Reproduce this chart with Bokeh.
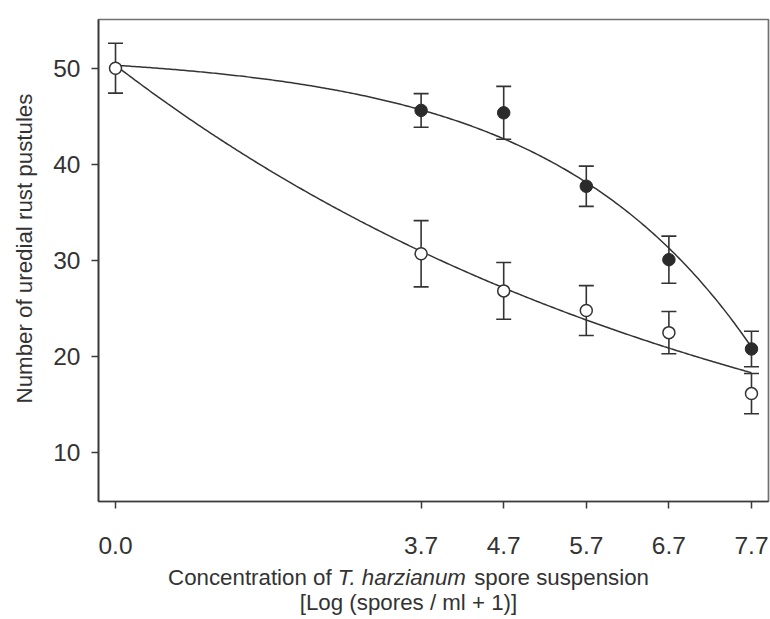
import numpy as np
from bokeh.plotting import figure
from bokeh.layouts import row, column
from bokeh.models import ColumnDataSource, Whisker, TeeHead, FixedTicker, Plot
from bokeh.core.properties import value
from bokeh.embed import file_html
from bokeh.resources import INLINE

# --- data: uredial rust pustules vs. T. harzianum spore concentration ---
x_ticks = [0.0, 3.7, 4.7, 5.7, 6.7, 7.7]
x_tick_labels = ["0.0", "3.7", "4.7", "5.7", "6.7", "7.7"]
y_ticks = [10, 20, 30, 40, 50]

filled_x = [3.7, 4.7, 5.7, 6.7, 7.7]
filled_y = [45.6, 45.35, 37.7, 30.05, 20.75]
filled_err = [1.75, 2.75, 2.1, 2.45, 1.85]

open_x = [0.0, 3.7, 4.7, 5.7, 6.7, 7.7]
open_y = [50.0, 30.67, 26.8, 24.75, 22.45, 16.1]
open_err = [2.6, 3.45, 2.95, 2.6, 2.2, 2.1]

# regression models drawn through each series
filled_fit = dict(a=51.605, b=1.305, c=0.41)    # y = a - b * exp(c x)
open_fit = dict(a=50.3, k=0.1315)               # y = a * exp(-k x)

x_title_parts = [("Concentration of", "normal"),
                 ("T. harzianum", "italic"),
                 ("spore suspension", "normal")]
x_title_line2 = "[Log (spores / ml + 1)]"
y_title = "Number of uredial rust pustules"

# --- layout ---
W, H = 770, 619
LEFT_STRIP = 40                      # column holding the y-axis title
BOTTOM_STRIP = 57                    # row holding the x-axis title
MAIN_W, MAIN_H = W - LEFT_STRIP, H - BOTTOM_STRIP
FRAME_LEFT, FRAME_TOP, FRAME_W, FRAME_H = 98, 19, 670, 482
X0, X1 = -0.206, 7.906
Y0, Y1 = 4.86, 55.07

TEXT = "#333333"
INK = "#333333"
FONT = "Liberation Sans"
TITLE_SIZE = 22.3
CAN_UNALIGN = "frame_align" in Plot.properties()

p = figure(
    frame_width=FRAME_W, frame_height=FRAME_H,
    x_range=(X0, X1), y_range=(Y0, Y1),
    min_border_left=FRAME_LEFT - LEFT_STRIP, min_border_top=FRAME_TOP,
    min_border_right=W - FRAME_LEFT - FRAME_W,
    min_border_bottom=MAIN_H - FRAME_TOP - FRAME_H,
    output_backend="svg", toolbar_location=None,
)
p.grid.visible = False
p.background_fill_color = "white"
p.border_fill_color = "white"
p.outline_line_color = "#707070"
p.outline_line_width = 1.7

for ax in (p.xaxis[0], p.yaxis[0]):
    ax.axis_line_color = "#3a3a3a"
    ax.axis_line_width = 1.7
    ax.major_tick_line_color = "#3a3a3a"
    ax.major_tick_line_width = 1.5
    ax.major_tick_out = 7
    ax.major_tick_in = 0
    ax.minor_tick_out = 0
    ax.minor_tick_in = 0
    ax.major_label_text_font = FONT
    ax.major_label_text_font_size = "24.5px"
    ax.major_label_text_color = TEXT

p.xaxis[0].ticker = FixedTicker(ticks=x_ticks)
p.xaxis[0].major_label_overrides = {t: s for t, s in zip(x_ticks, x_tick_labels)}
p.xaxis[0].major_label_standoff = 28
p.yaxis[0].ticker = FixedTicker(ticks=y_ticks)
p.yaxis[0].major_label_standoff = 11

# --- fitted curves ---
xs = np.linspace(0.0, 7.7, 300)
p.line(xs, filled_fit["a"] - filled_fit["b"] * np.exp(filled_fit["c"] * xs),
       line_color=INK, line_width=1.5)
p.line(xs, open_fit["a"] * np.exp(-open_fit["k"] * xs),
       line_color=INK, line_width=1.5)

# --- error bars ---
def add_whiskers(x, y, e):
    src = ColumnDataSource(dict(
        x=x,
        lo=[v - d for v, d in zip(y, e)],
        hi=[v + d for v, d in zip(y, e)],
    ))
    p.add_layout(Whisker(
        source=src, base="x", lower="lo", upper="hi",
        line_color=INK, line_width=1.6,
        upper_head=TeeHead(size=15, line_color=INK, line_width=1.6),
        lower_head=TeeHead(size=15, line_color=INK, line_width=1.6),
    ))

add_whiskers(filled_x, filled_y, filled_err)
add_whiskers(open_x, open_y, open_err)

# --- points ---
p.scatter(filled_x, filled_y, size=12.5, marker="circle",
          fill_color="#2b2b2b", line_color="#2b2b2b", line_width=1)
p.scatter(open_x, open_y, size=12, marker="circle",
          fill_color="white", line_color=INK, line_width=1.5)


def text_strip(width, height, x_span, y_span):
    """An axis-less figure used only to carry title text in page pixels."""
    f = figure(width=width, height=height, x_range=x_span, y_range=y_span,
               x_axis_location=None, y_axis_location=None,
               output_backend="svg", toolbar_location=None,
               min_border=0, outline_line_color=None)
    if CAN_UNALIGN:
        f.frame_align = False
    f.grid.visible = False
    f.background_fill_color = "white"
    f.border_fill_color = "white"
    return f


# --- y-axis title ---
left = text_strip(LEFT_STRIP, H, (0, LEFT_STRIP), (H, 0))
left.text(x=[24], y=[248], text=[y_title], angle=np.pi / 2,
          text_font=value(FONT), text_font_size=f"{TITLE_SIZE}px",
          text_color=TEXT, text_align="center", text_baseline="alphabetic")

# --- x-axis title (two lines, species name in italics) ---
# x runs in page pixels; without frame alignment the strip spans its own width,
# otherwise its frame lines up with the main plot's frame
x_span = (LEFT_STRIP, W) if CAN_UNALIGN else (FRAME_LEFT, FRAME_LEFT + FRAME_W)
bottom = text_strip(MAIN_W, BOTTOM_STRIP, x_span, (H, MAIN_H))
# Liberation Sans advance widths (em/1000) of the three pieces and a space
part_widths = [7337, 5835, 7837]
space = 278
total = (sum(part_widths) + space * (len(part_widths) - 1)) / 1000 * TITLE_SIZE
center_x = 408
line1_y, line2_y = 576.5, 602.0
cursor = center_x - total / 2
for (txt, style), w in zip(x_title_parts, part_widths):
    bottom.text(x=[cursor], y=[line1_y], text=[txt],
                text_font=value(FONT), text_font_size=f"{TITLE_SIZE}px",
                text_font_style=style, text_color=TEXT,
                text_align="left", text_baseline="alphabetic")
    cursor += (w + space) / 1000 * TITLE_SIZE
bottom.text(x=[center_x], y=[line2_y], text=[x_title_line2],
            text_font=value(FONT), text_font_size=f"{TITLE_SIZE}px",
            text_color=TEXT, text_align="center", text_baseline="alphabetic")

layout = row(left, column(p, bottom, spacing=0), spacing=0)
open("out.html", "w").write(file_html(layout, INLINE))
